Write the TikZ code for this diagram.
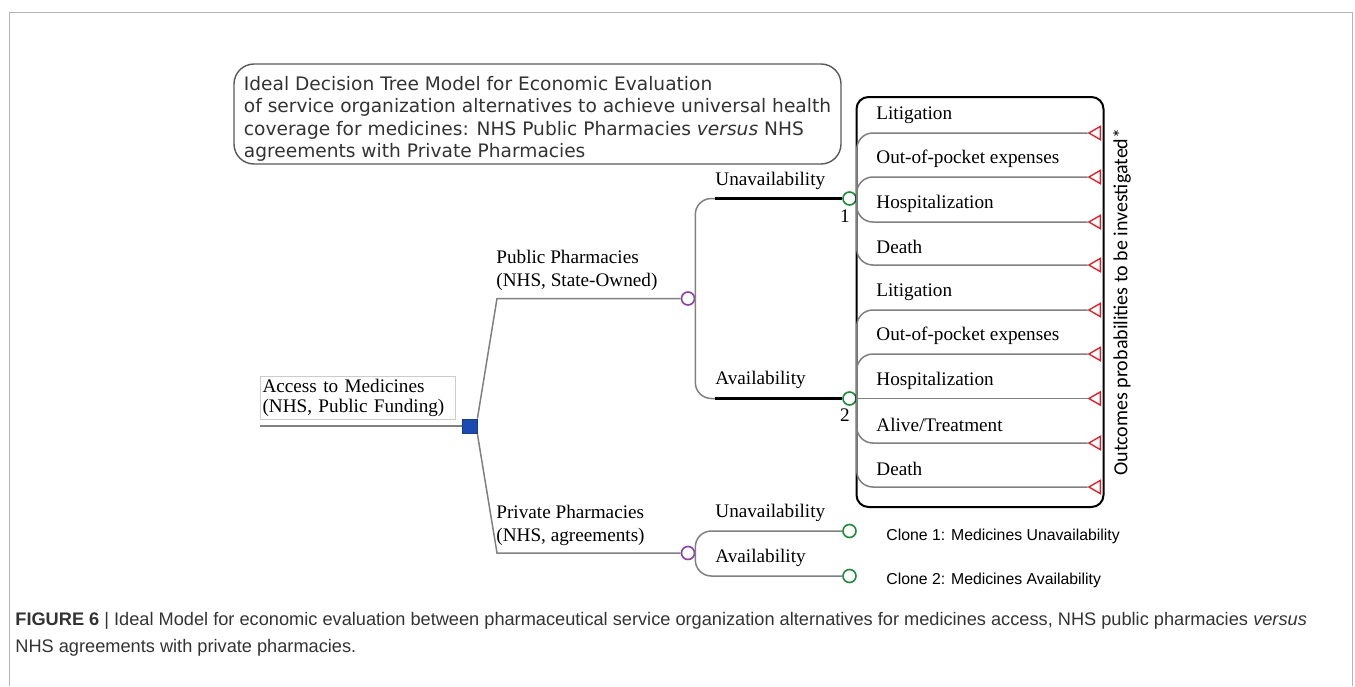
\documentclass[tikz,border=0pt]{standalone}
\usepackage{fontspec}
\setmainfont{Liberation Serif}
\newfontfamily\titlefont{DejaVu Sans}
\newfontfamily\notefont{Carlito}
\newfontfamily\capfont{Liberation Sans}
\usetikzlibrary{shapes.geometric}
\definecolor{branchgray}{HTML}{808080}
\definecolor{framegray}{HTML}{B4B4B4}
\definecolor{chancegreen}{HTML}{1E8A3A}
\definecolor{chancepurple}{HTML}{8E3FA8}
\definecolor{decisionblue}{HTML}{1C4BAF}
\definecolor{termred}{HTML}{D9232E}
\definecolor{textgray}{HTML}{333333}

\begin{document}
\begin{tikzpicture}[x=0.5pt,y=-0.5pt,
  twig/.style={draw=branchgray, line width=0.75pt},
  curvy/.style={rounded corners=8pt},
  strong/.style={draw=black, line width=1.5pt},
  chance/.style={circle, draw=#1, fill=white, line width=0.8pt, minimum size=6.5pt, inner sep=0pt},
  decision/.style={rectangle, fill=decisionblue, draw=decisionblue!80!black, minimum size=7.3pt, inner sep=0pt},
  terminal/.style={regular polygon, regular polygon sides=3, shape border rotate=90, draw=termred, line width=0.7pt, minimum size=7.6pt, inner sep=0pt},
  lbl/.style={anchor=west, inner sep=0pt, align=left, font=\fontsize{9.6}{11.5}\selectfont},
  clone/.style={anchor=west, inner sep=0pt, font=\capfont\fontsize{7.9}{9}\selectfont},
  titlebox/.style={draw=gray!70!black, line width=0.7pt, rounded corners=10pt, minimum width=303.5pt, minimum height=50pt, inner ysep=0pt, align=left, text=textgray, font=\titlefont\fontsize{9.3}{11.15}\selectfont},
  rootbox/.style={draw=gray!40, text width=95pt, inner xsep=1.25pt, inner ysep=0pt, minimum height=21.5pt, align=left, font=\fontsize{9.6}{10}\selectfont}
]
\useasboundingbox (0,0) rectangle (1355,686);

% frame
\draw[framegray, line width=0.5pt] (9,686) -- (9,12) -- (1352,12) -- (1352,686);

\node[titlebox] (title) at (537.5,114) {\rule{0pt}{12pt}Ideal Decision Tree Model for Economic Evaluation\\of service organization alternatives to achieve universal health\\coverage for medicines: NHS Public Pharmacies \textit{versus} NHS\\agreements with Private Pharmacies};

% root
\node[rootbox] (root) at (357.5,397.5) {Access to Medicines\\(NHS, Public Funding)};
\node[decision] (dec) at (469.7,426.3) {};
\draw[twig, line width=1pt] (root.west |- dec) -- (dec.west);

% first level
\node[chance=chancepurple] (pub) at (688,298.5) {};
\node[chance=chancepurple] (prv) at (688,553) {};
\coordinate (pubbend) at (497,298.5);
\coordinate (prvbend) at (497,553);
\draw[twig] (dec.north east) -- (pubbend) -- (pub.west);
\draw[twig] (dec.south east) -- (prvbend) -- (prv.west);
\node[lbl] (publbl) at (496,270.5) {Public Pharmacies\\(NHS, State-Owned)};
\node[lbl] (prvlbl) at (496,525) {Private Pharmacies\\(NHS, agreements)};

% second level
\node[chance=chancegreen] (g1) at (849.5,198.5) {};
\node[chance=chancegreen] (g2) at (849.5,398.5) {};
\node[chance=chancegreen] (g3) at (849.5,531) {};
\node[chance=chancegreen] (g4) at (849.5,576) {};
\coordinate (pu) at (715,198.5);
\coordinate (pa) at (715,398.5);
\draw[twig, curvy] (pub.east) |- (pu);
\draw[twig, curvy] (pub.east) |- (pa);
\draw[strong] (pu) -- (g1.west);
\draw[strong] (pa) -- (g2.west);
\draw[twig, curvy] (prv.east) |- (g3.west);
\draw[twig, curvy] (prv.east) |- (g4.west);
\node[lbl] (pulbl) at (715,181) {Unavailability};
\node[lbl] (palbl) at (715,380) {Availability};
\node[lbl] (qulbl) at (715,513) {Unavailability};
\node[lbl] (qalbl) at (715,558) {Availability};
\node[lbl, anchor=center] (n1) at (845,216) {1};
\node[lbl, anchor=center] (n2) at (845,415) {2};
\node[clone] (c1) at (886,536) {Clone 1: Medicines Unavailability};
\node[clone] (c2) at (886,580) {Clone 2: Medicines Availability};

% outcomes
\draw[line width=1pt, rounded corners=6pt] (856.5,97) rectangle (1103.5,507);
\foreach \y/\txt [count=\i] in {133/Litigation, 177/Out-of-pocket expenses, 222/Hospitalization, 265/Death} {
  \node[terminal] (ta\i) at (1096.5,\y) {};
  \node[lbl] (oa\i) at (876,{\y-18}) {\txt};
  \draw[twig, curvy] (g1.east) |- (ta\i);
}
\foreach \y/\txt [count=\i] in {310/Litigation, 354/Out-of-pocket expenses, 443/{Alive/Treatment}, 487/Death} {
  \node[terminal] (tb\i) at (1096.5,\y) {};
  \node[lbl] (ob\i) at (876,{\y-18}) {\txt};
  \draw[twig, curvy] (g2.east) |- (tb\i);
}
\node[terminal] (tb5) at (1096.5,398.5) {};
\node[lbl] (ob5) at (876,380.5) {Hospitalization};
\draw[twig] (g2.east) -- (tb5);
\node[rotate=90, inner sep=0pt, font=\notefont\fontsize{10}{12}\selectfont] (note) at (1122,302) {Outcomes probabilities to be investigated*};

% caption
\node[anchor=west, align=left, inner sep=0pt, text=textgray, font=\capfont\fontsize{9.1}{13.5}\selectfont] (cap) at (15,634.5) {\textbf{FIGURE 6} | Ideal Model for economic evaluation between pharmaceutical service organization alternatives for medicines access, NHS public pharmacies \textit{versus}\\NHS agreements with private pharmacies.};
\end{tikzpicture}
\end{document}
